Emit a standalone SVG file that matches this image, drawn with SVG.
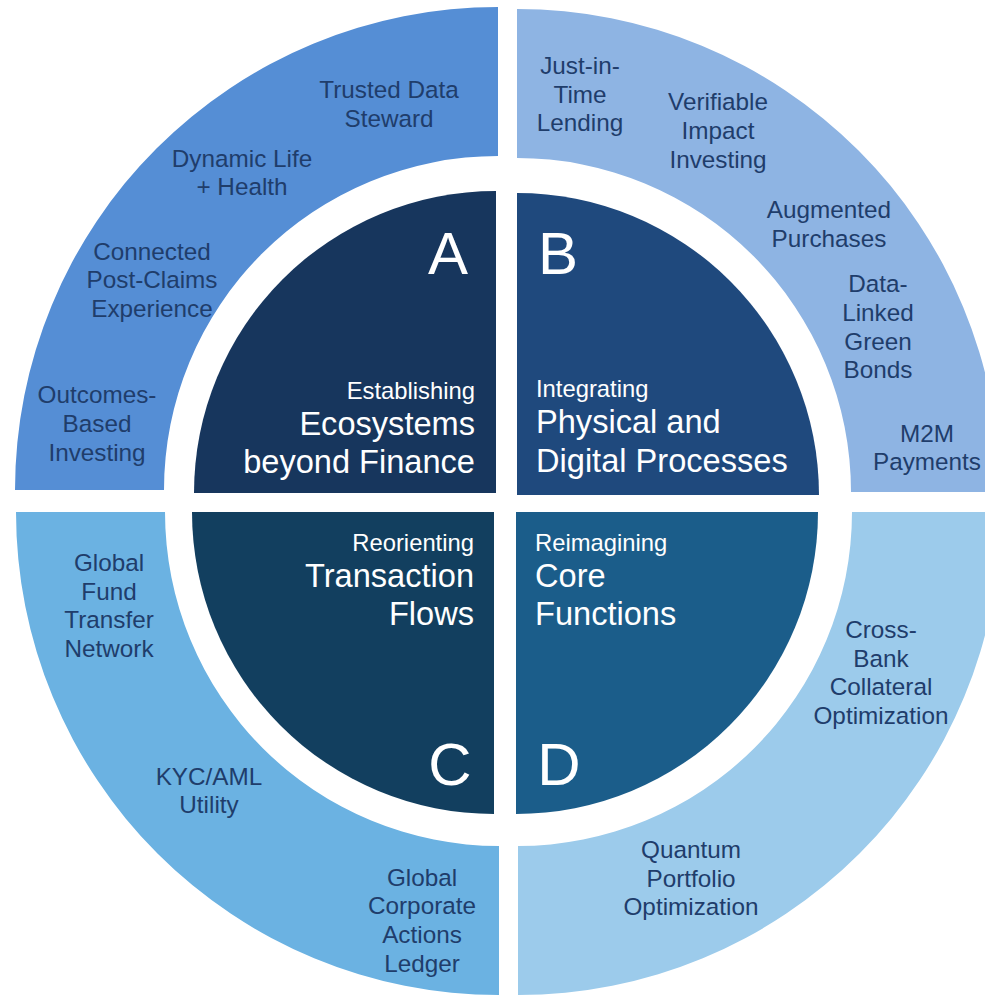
<svg xmlns="http://www.w3.org/2000/svg" width="985" height="995" viewBox="0 0 985 995">
<style>
text{font-family:"Liberation Sans",Arial,sans-serif}
.o{font-size:24.3px;fill:#1f3d6b;text-anchor:middle}
.s{font-size:23.8px;fill:#fff}
.t{font-size:32.6px;fill:#fff}
.l{font-size:60px;fill:#fff;text-anchor:middle}
.e{text-anchor:end}
</style>
<rect width="985" height="995" fill="#fff"/>
<g id="ringA"><path d="M15,490 A483,483 0 0 1 498,7 L498,156 A334,334 0 0 0 164,490 Z" fill="#558ed5"/>
<text class="o"><tspan x="389" y="98">Trusted Data</tspan><tspan x="389" y="127">Steward</tspan></text>
<text class="o"><tspan x="242" y="167">Dynamic Life</tspan><tspan x="242" y="195">+ Health</tspan></text>
<text class="o"><tspan x="152" y="260">Connected</tspan><tspan x="152" y="288">Post-Claims</tspan><tspan x="152" y="317">Experience</tspan></text>
<text class="o"><tspan x="97" y="403">Outcomes-</tspan><tspan x="97" y="432">Based</tspan><tspan x="97" y="461">Investing</tspan></text>
</g>
<g id="ringB"><path d="M517,9 A483,483 0 0 1 1000,492 L851,492 A334,334 0 0 0 517,158 Z" fill="#8eb4e3"/>
<text class="o"><tspan x="580" y="74">Just-in-</tspan><tspan x="580" y="103">Time</tspan><tspan x="580" y="131">Lending</tspan></text>
<text class="o"><tspan x="718" y="110">Verifiable</tspan><tspan x="718" y="139">Impact</tspan><tspan x="718" y="168">Investing</tspan></text>
<text class="o"><tspan x="829" y="218">Augmented</tspan><tspan x="829" y="247">Purchases</tspan></text>
<text class="o"><tspan x="878" y="292">Data-</tspan><tspan x="878" y="321">Linked</tspan><tspan x="878" y="350">Green</tspan><tspan x="878" y="378">Bonds</tspan></text>
<text class="o"><tspan x="927" y="442">M2M</tspan><tspan x="927" y="470">Payments</tspan></text>
</g>
<g id="ringC"><path d="M16,512 A483,483 0 0 0 499,995 L499,846 A334,334 0 0 1 165,512 Z" fill="#6bb2e2"/>
<text class="o"><tspan x="109" y="571">Global</tspan><tspan x="109" y="600">Fund</tspan><tspan x="109" y="628">Transfer</tspan><tspan x="109" y="657">Network</tspan></text>
<text class="o"><tspan x="209" y="785">KYC/AML</tspan><tspan x="209" y="813">Utility</tspan></text>
<text class="o"><tspan x="422" y="886">Global</tspan><tspan x="422" y="914">Corporate</tspan><tspan x="422" y="943">Actions</tspan><tspan x="422" y="972">Ledger</tspan></text>
</g>
<g id="ringD"><path d="M1001,512 A483,483 0 0 1 518,995 L518,846 A334,334 0 0 0 852,512 Z" fill="#9ccbeb"/>
<text class="o"><tspan x="881" y="638">Cross-</tspan><tspan x="881" y="667">Bank</tspan><tspan x="881" y="695">Collateral</tspan><tspan x="881" y="724">Optimization</tspan></text>
<text class="o"><tspan x="691" y="858">Quantum</tspan><tspan x="691" y="887">Portfolio</tspan><tspan x="691" y="915">Optimization</tspan></text>
</g>
<g id="quadA"><path d="M194,493 A302,302 0 0 1 496,191 L496,493 Z" fill="#17365d"/>
<text class="l" x="448" y="274">A</text>
<text class="s e" x="475" y="399">Establishing</text>
<text class="t e" x="475" y="435">Ecosystems</text>
<text class="t e" x="475" y="473">beyond Finance</text>
</g>
<g id="quadB"><path d="M517,193 A302,302 0 0 1 819,495 L517,495 Z" fill="#1f497d"/>
<text class="l" x="558" y="274">B</text>
<text class="s" x="536" y="397">Integrating</text>
<text class="t" x="536" y="433">Physical and</text>
<text class="t" x="536" y="472">Digital Processes</text>
</g>
<g id="quadC"><path d="M192,512 A302,302 0 0 0 494,814 L494,512 Z" fill="#123f5f"/>
<text class="l" x="450" y="785">C</text>
<text class="s e" x="474" y="551">Reorienting</text>
<text class="t e" x="474" y="587">Transaction</text>
<text class="t e" x="474" y="625">Flows</text>
</g>
<g id="quadD"><path d="M516,512 L818,512 A302,302 0 0 1 516,814 Z" fill="#1b5d8a"/>
<text class="l" x="559" y="785">D</text>
<text class="s" x="535" y="551">Reimagining</text>
<text class="t" x="535" y="587">Core</text>
<text class="t" x="535" y="625">Functions</text>
</g>
<g id="connectors"/>
</svg>
